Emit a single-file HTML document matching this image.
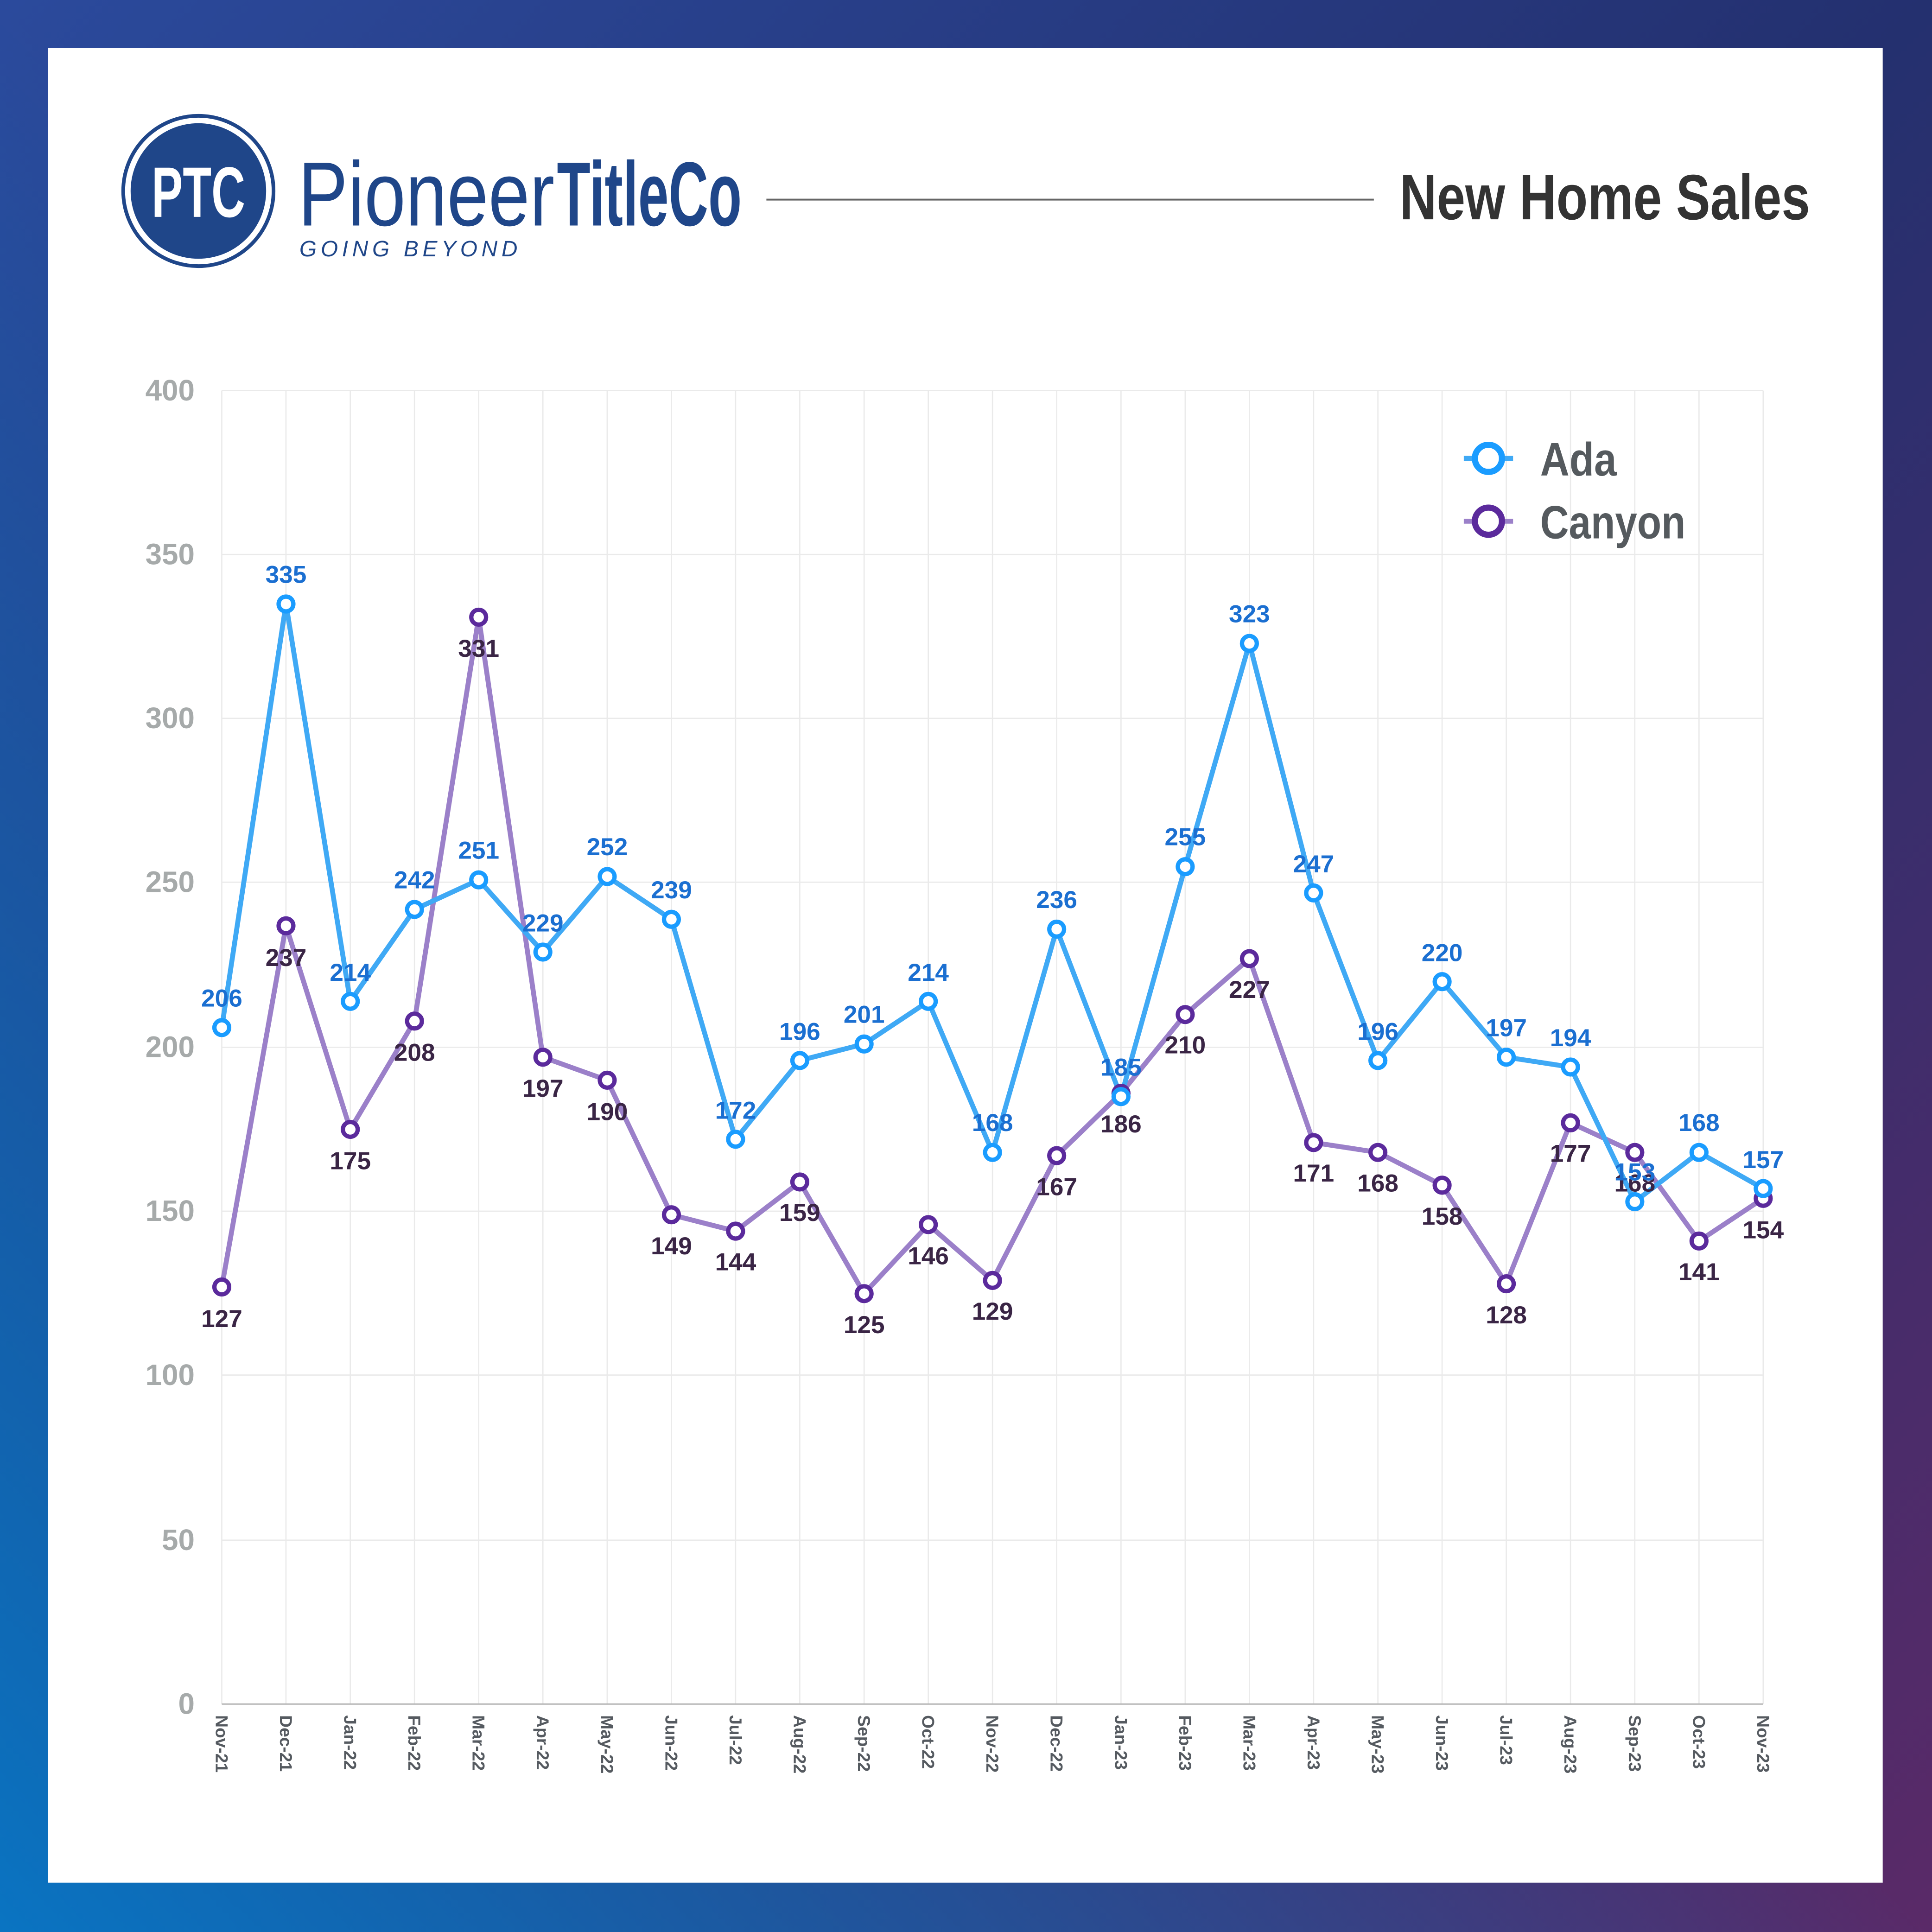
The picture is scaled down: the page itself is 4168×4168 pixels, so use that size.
<!DOCTYPE html>
<html><head><meta charset="utf-8"><style>html,body{margin:0;padding:0;background:#fff}svg{display:block}</style></head><body>
<svg width="4168" height="4168" viewBox="0 0 1568 1568" xmlns="http://www.w3.org/2000/svg" font-family="'Liberation Sans Narrow','Liberation Sans',sans-serif">
<defs>
<linearGradient id="bg" x1="0" y1="0" x2="1" y2="1">
<stop offset="0" stop-color="#2b4a9c"/><stop offset="0.5" stop-color="#24306f"/><stop offset="1" stop-color="#5a2a68"/>
</linearGradient>
<linearGradient id="bg2" x1="0" y1="1" x2="1" y2="0">
<stop offset="0" stop-color="#0a74c2" stop-opacity="1"/><stop offset="0.5" stop-color="#0a74c2" stop-opacity="0"/>
</linearGradient>
</defs>
<rect width="1568" height="1568" fill="url(#bg)"/>
<rect width="1568" height="1568" fill="url(#bg2)"/>
<rect x="39" y="39" width="1489" height="1489" fill="#fff"/>
<!-- logo -->
<circle cx="161" cy="155" r="61" fill="none" stroke="#1f4689" stroke-width="3"/>
<circle cx="161" cy="155" r="55" fill="#1f4689"/>
<text x="161" y="176" text-anchor="middle" font-size="58" font-weight="bold" fill="#fff" textLength="76" lengthAdjust="spacingAndGlyphs">PTC</text>
<text x="242" y="183" font-size="74" fill="#1f4689" textLength="208" lengthAdjust="spacingAndGlyphs">Pioneer</text>
<text x="452" y="183" font-size="74" font-weight="bold" fill="#1f4689" textLength="150" lengthAdjust="spacingAndGlyphs">TitleCo</text>
<text x="243" y="208" font-size="18" font-style="italic" fill="#1f4689" textLength="177" lengthAdjust="spacing">GOING BEYOND</text>
<line x1="622" y1="162" x2="1115" y2="162" stroke="#666" stroke-width="1.5"/>
<text x="1136" y="178" font-size="52" font-weight="bold" fill="#333" textLength="333" lengthAdjust="spacingAndGlyphs">New Home Sales</text>
<!-- grid -->
<g stroke="#eaeaea" stroke-width="1">
<line x1="180" y1="317" x2="1431" y2="317"/><line x1="180" y1="450" x2="1431" y2="450"/><line x1="180" y1="583" x2="1431" y2="583"/><line x1="180" y1="716" x2="1431" y2="716"/><line x1="180" y1="850" x2="1431" y2="850"/><line x1="180" y1="983" x2="1431" y2="983"/><line x1="180" y1="1116" x2="1431" y2="1116"/><line x1="180" y1="1250" x2="1431" y2="1250"/>
<line x1="180" y1="317" x2="180" y2="1383"/><line x1="232.1" y1="317" x2="232.1" y2="1383"/><line x1="284.3" y1="317" x2="284.3" y2="1383"/><line x1="336.4" y1="317" x2="336.4" y2="1383"/><line x1="388.5" y1="317" x2="388.5" y2="1383"/><line x1="440.6" y1="317" x2="440.6" y2="1383"/><line x1="492.8" y1="317" x2="492.8" y2="1383"/><line x1="544.9" y1="317" x2="544.9" y2="1383"/><line x1="597" y1="317" x2="597" y2="1383"/><line x1="649.1" y1="317" x2="649.1" y2="1383"/><line x1="701.3" y1="317" x2="701.3" y2="1383"/><line x1="753.4" y1="317" x2="753.4" y2="1383"/><line x1="805.5" y1="317" x2="805.5" y2="1383"/><line x1="857.6" y1="317" x2="857.6" y2="1383"/><line x1="909.8" y1="317" x2="909.8" y2="1383"/><line x1="961.9" y1="317" x2="961.9" y2="1383"/><line x1="1014" y1="317" x2="1014" y2="1383"/><line x1="1066.1" y1="317" x2="1066.1" y2="1383"/><line x1="1118.3" y1="317" x2="1118.3" y2="1383"/><line x1="1170.4" y1="317" x2="1170.4" y2="1383"/><line x1="1222.5" y1="317" x2="1222.5" y2="1383"/><line x1="1274.6" y1="317" x2="1274.6" y2="1383"/><line x1="1326.8" y1="317" x2="1326.8" y2="1383"/><line x1="1378.9" y1="317" x2="1378.9" y2="1383"/><line x1="1431" y1="317" x2="1431" y2="1383"/>
</g>
<line x1="180" y1="1383" x2="1431" y2="1383" stroke="#bbb" stroke-width="1.2"/>
<!-- y labels -->
<g font-size="24" font-weight="bold" fill="#a6aaaa" text-anchor="end">
<text x="158" y="325">400</text><text x="158" y="458">350</text><text x="158" y="591">300</text><text x="158" y="724">250</text><text x="158" y="858">200</text><text x="158" y="991">150</text><text x="158" y="1124">100</text><text x="158" y="1258">50</text><text x="158" y="1391">0</text>
</g>
<!-- x labels -->
<g font-size="14" font-weight="bold" fill="#555a60" dominant-baseline="central">
<text transform="translate(180,1392) rotate(90)">Nov-21</text><text transform="translate(232.1,1392) rotate(90)">Dec-21</text><text transform="translate(284.3,1392) rotate(90)">Jan-22</text><text transform="translate(336.4,1392) rotate(90)">Feb-22</text><text transform="translate(388.5,1392) rotate(90)">Mar-22</text><text transform="translate(440.6,1392) rotate(90)">Apr-22</text><text transform="translate(492.8,1392) rotate(90)">May-22</text><text transform="translate(544.9,1392) rotate(90)">Jun-22</text><text transform="translate(597,1392) rotate(90)">Jul-22</text><text transform="translate(649.1,1392) rotate(90)">Aug-22</text><text transform="translate(701.3,1392) rotate(90)">Sep-22</text><text transform="translate(753.4,1392) rotate(90)">Oct-22</text><text transform="translate(805.5,1392) rotate(90)">Nov-22</text><text transform="translate(857.6,1392) rotate(90)">Dec-22</text><text transform="translate(909.8,1392) rotate(90)">Jan-23</text><text transform="translate(961.9,1392) rotate(90)">Feb-23</text><text transform="translate(1014,1392) rotate(90)">Mar-23</text><text transform="translate(1066.1,1392) rotate(90)">Apr-23</text><text transform="translate(1118.3,1392) rotate(90)">May-23</text><text transform="translate(1170.4,1392) rotate(90)">Jun-23</text><text transform="translate(1222.5,1392) rotate(90)">Jul-23</text><text transform="translate(1274.6,1392) rotate(90)">Aug-23</text><text transform="translate(1326.8,1392) rotate(90)">Sep-23</text><text transform="translate(1378.9,1392) rotate(90)">Oct-23</text><text transform="translate(1431,1392) rotate(90)">Nov-23</text>
</g>
<!-- Canyon line -->
<polyline fill="none" stroke="#9b80c9" stroke-width="4" stroke-linejoin="round" points="180,1044.5 232.1,751.4 284.3,916.6 336.4,828.7 388.5,500.9 440.6,858 492.8,876.7 544.9,985.9 597,999.2 649.1,959.3 701.3,1049.9 753.4,993.9 805.5,1039.2 857.6,937.9 909.8,887.3 961.9,823.4 1014,778 1066.1,927.3 1118.3,935.3 1170.4,961.9 1222.5,1041.9 1274.6,911.3 1326.8,935.3 1378.9,1007.2 1431,972.6"/>
<!-- Ada line -->
<polyline fill="none" stroke="#3fa9f5" stroke-width="4" stroke-linejoin="round" points="180,834 232.1,490.2 284.3,812.7 336.4,738.1 388.5,714.1 440.6,772.7 492.8,711.4 544.9,746.1 597,924.6 649.1,860.7 701.3,847.3 753.4,812.7 805.5,935.3 857.6,754.1 909.8,890 961.9,703.4 1014,522.2 1066.1,724.7 1118.3,860.7 1170.4,796.7 1222.5,858 1274.6,866 1326.8,975.3 1378.9,935.3 1431,964.6"/>
<!-- Canyon markers -->
<g fill="#fff" stroke="#5b2a9c" stroke-width="3.5">
<circle cx="180" cy="1044.5" r="6"/><circle cx="232.1" cy="751.4" r="6"/><circle cx="284.3" cy="916.6" r="6"/><circle cx="336.4" cy="828.7" r="6"/><circle cx="388.5" cy="500.9" r="6"/><circle cx="440.6" cy="858" r="6"/><circle cx="492.8" cy="876.7" r="6"/><circle cx="544.9" cy="985.9" r="6"/><circle cx="597" cy="999.2" r="6"/><circle cx="649.1" cy="959.3" r="6"/><circle cx="701.3" cy="1049.9" r="6"/><circle cx="753.4" cy="993.9" r="6"/><circle cx="805.5" cy="1039.2" r="6"/><circle cx="857.6" cy="937.9" r="6"/><circle cx="909.8" cy="887.3" r="6"/><circle cx="961.9" cy="823.4" r="6"/><circle cx="1014" cy="778" r="6"/><circle cx="1066.1" cy="927.3" r="6"/><circle cx="1118.3" cy="935.3" r="6"/><circle cx="1170.4" cy="961.9" r="6"/><circle cx="1222.5" cy="1041.9" r="6"/><circle cx="1274.6" cy="911.3" r="6"/><circle cx="1326.8" cy="935.3" r="6"/><circle cx="1378.9" cy="1007.2" r="6"/><circle cx="1431" cy="972.6" r="6"/>
</g>
<!-- Ada markers -->
<g fill="#fff" stroke="#1a9cff" stroke-width="3.5">
<circle cx="180" cy="834" r="6"/><circle cx="232.1" cy="490.2" r="6"/><circle cx="284.3" cy="812.7" r="6"/><circle cx="336.4" cy="738.1" r="6"/><circle cx="388.5" cy="714.1" r="6"/><circle cx="440.6" cy="772.7" r="6"/><circle cx="492.8" cy="711.4" r="6"/><circle cx="544.9" cy="746.1" r="6"/><circle cx="597" cy="924.6" r="6"/><circle cx="649.1" cy="860.7" r="6"/><circle cx="701.3" cy="847.3" r="6"/><circle cx="753.4" cy="812.7" r="6"/><circle cx="805.5" cy="935.3" r="6"/><circle cx="857.6" cy="754.1" r="6"/><circle cx="909.8" cy="890" r="6"/><circle cx="961.9" cy="703.4" r="6"/><circle cx="1014" cy="522.2" r="6"/><circle cx="1066.1" cy="724.7" r="6"/><circle cx="1118.3" cy="860.7" r="6"/><circle cx="1170.4" cy="796.7" r="6"/><circle cx="1222.5" cy="858" r="6"/><circle cx="1274.6" cy="866" r="6"/><circle cx="1326.8" cy="975.3" r="6"/><circle cx="1378.9" cy="935.3" r="6"/><circle cx="1431" cy="964.6" r="6"/>
</g>
<!-- Canyon labels -->
<g font-size="20" font-weight="bold" fill="#3a2545" text-anchor="middle">
<text x="180" y="1077">127</text><text x="232.1" y="784">237</text><text x="284.3" y="949">175</text><text x="336.4" y="861">208</text><text x="388.5" y="533">331</text><text x="440.6" y="890">197</text><text x="492.8" y="909">190</text><text x="544.9" y="1018">149</text><text x="597" y="1031">144</text><text x="649.1" y="991">159</text><text x="701.3" y="1082">125</text><text x="753.4" y="1026">146</text><text x="805.5" y="1071">129</text><text x="857.6" y="970">167</text><text x="909.8" y="919">186</text><text x="961.9" y="855">210</text><text x="1014" y="810">227</text><text x="1066.1" y="959">171</text><text x="1118.3" y="967">168</text><text x="1170.4" y="994">158</text><text x="1222.5" y="1074">128</text><text x="1274.6" y="943">177</text><text x="1326.8" y="967">168</text><text x="1378.9" y="1039">141</text><text x="1431" y="1005">154</text>
</g>
<!-- Ada labels -->
<g font-size="20" font-weight="bold" fill="#1b6fd1" text-anchor="middle">
<text x="180" y="817">206</text><text x="232.1" y="473">335</text><text x="284.3" y="796">214</text><text x="336.4" y="721">242</text><text x="388.5" y="697">251</text><text x="440.6" y="756">229</text><text x="492.8" y="694">252</text><text x="544.9" y="729">239</text><text x="597" y="908">172</text><text x="649.1" y="844">196</text><text x="701.3" y="830">201</text><text x="753.4" y="796">214</text><text x="805.5" y="918">168</text><text x="857.6" y="737">236</text><text x="909.8" y="873">185</text><text x="961.9" y="686">255</text><text x="1014" y="505">323</text><text x="1066.1" y="708">247</text><text x="1118.3" y="844">196</text><text x="1170.4" y="780">220</text><text x="1222.5" y="841">197</text><text x="1274.6" y="849">194</text><text x="1326.8" y="958">153</text><text x="1378.9" y="918">168</text><text x="1431" y="948">157</text>
</g>
<!-- legend -->
<line x1="1188" y1="372" x2="1228" y2="372" stroke="#3fa9f5" stroke-width="4"/>
<circle cx="1208" cy="372" r="11" fill="#fff" stroke="#1a9cff" stroke-width="5"/>
<text x="1250" y="386" font-size="38" font-weight="bold" fill="#555a5e" textLength="62" lengthAdjust="spacingAndGlyphs">Ada</text>
<line x1="1188" y1="423" x2="1228" y2="423" stroke="#9b80c9" stroke-width="4"/>
<circle cx="1208" cy="423" r="11" fill="#fff" stroke="#5b2a9c" stroke-width="5"/>
<text x="1250" y="437" font-size="38" font-weight="bold" fill="#555a5e" textLength="118" lengthAdjust="spacingAndGlyphs">Canyon</text>
</svg>
</body></html>
